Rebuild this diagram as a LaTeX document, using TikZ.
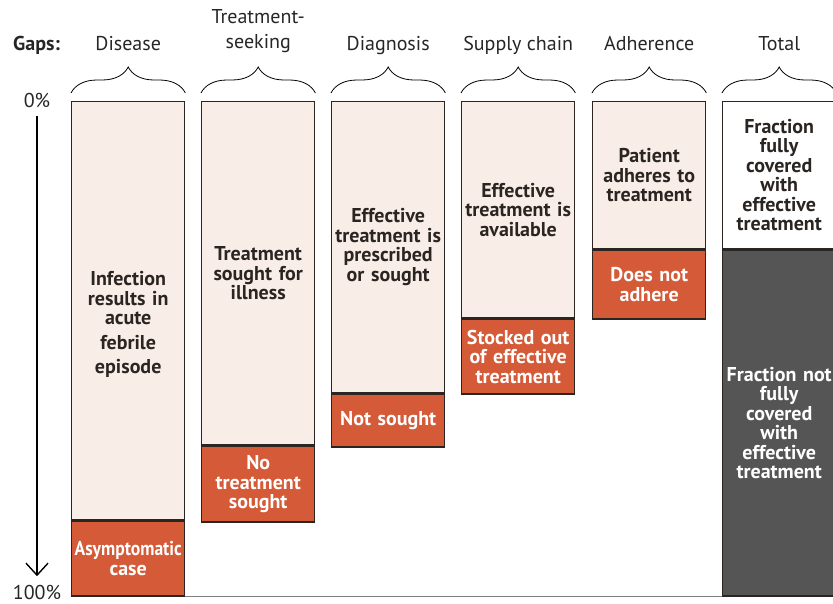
\documentclass[tikz,border=0pt]{standalone}
\usepackage{fontspec}
\setmainfont{PT Sans}
\usetikzlibrary{positioning,decorations.pathreplacing,arrows.meta}
\definecolor{hell}{HTML}{F9EDE7}
\definecolor{rot}{HTML}{D45A38}
\definecolor{dunkel}{HTML}{555555}
\definecolor{rand}{HTML}{2B2522}
\tikzset{
  balken/.style={draw=rand, line width=1.4pt, fill=hell, minimum width=113pt,
    text width=110pt, align=center, anchor=north west, inner sep=0pt,
    font=\bfseries\fontsize{20}{19.5}\selectfont, text=rand},
  luecke/.style={balken, fill=rot, text=white},
  kopf/.style={font=\fontsize{20}{25}\selectfont, align=center, text=black!85},
  klammer/.style={decorate, decoration={brace, amplitude=26pt}, line width=0.8pt},
}
\begin{document}
\begin{tikzpicture}[x=1pt,y=-1pt]
	\useasboundingbox (0,0) rectangle (833,603);
	
	% Achse
	\node[kopf] (null) at (37,100) {0\%};
	\node[kopf] (hundert) at (37,592) {100\%};
	\draw[line width=1.4pt, -{Straight Barb[length=12pt,width=22pt]}, shorten <=5pt, shorten >=5pt] (null) -- (hundert);
	
	% Balken
	\node[balken, minimum height=418pt] (dis) at (71,101) {\rule{0pt}{42pt}Infection\\results in\\acute\\[5pt]febrile\\[5pt]episode};
	\node[luecke, minimum height=75pt] (dis-l) at (dis.south west) {\scalebox{0.88}[1]{Asymptomatic}\\case};
	
	\node[balken, minimum height=343pt] (beh) at (201,101) {Treatment\\sought for\\illness};
	\node[luecke, minimum height=76pt] (beh-l) at (beh.south west) {No\\treatment\\sought};
	
	\node[balken, minimum height=291pt] (dia) at (331,101) {Effective\\treatment is\\prescribed\\or sought};
	\node[luecke, minimum height=53pt] (dia-l) at (dia.south west) {Not sought};
	
	\node[balken, minimum height=216pt] (ver) at (461,101) {Effective\\treatment is\\available};
	\node[luecke, minimum height=75pt] (ver-l) at (ver.south west) {Stocked out\\of effective\\treatment};
	
	\node[balken, minimum height=147pt] (adh) at (592,101) {Patient\\adheres to\\treatment};
	\node[luecke, minimum height=69pt] (adh-l) at (adh.south west) {Does not\\adhere};
	
	\node[balken, fill=white, minimum height=147pt] (tot) at (722,101) {Fraction\\fully\\covered\\with\\effective\\treatment};
	\node[luecke, fill=dunkel, minimum height=346pt] (tot-l) at (tot.south west) {Fraction not\\fully\\covered\\with\\effective\\treatment};
	
	% Grundlinie
	\draw[black!50, line width=1pt] (dis-l.south east) -- (tot-l.south west);
	
	% Klammern und Titel
	\foreach \b in {dis, beh, dia, ver, adh, tot}{
		\draw[klammer] ([yshift=8pt]\b.north west) -- ([yshift=8pt]\b.north east);
	}
	\node[kopf, anchor=base] (k-dis) at ([yshift=51pt]dis.north) {Disease};
	\node[kopf, anchor=south] (k-beh) at ([yshift=45pt]beh.north) {Treatment-\\seeking};
	\node[kopf, anchor=base] (k-dia) at ([yshift=51pt]dia.north) {Diagnosis};
	\node[kopf, anchor=base] (k-ver) at ([yshift=51pt]ver.north) {Supply chain};
	\node[kopf, anchor=base] (k-adh) at ([yshift=51pt]adh.north) {Adherence};
	\node[kopf, anchor=base] (k-tot) at ([yshift=51pt]tot.north) {Total};
	\node[kopf, font=\bfseries\fontsize{20}{25}\selectfont, anchor=base west, inner sep=0pt] (gaps) at (13,50) {Gaps:};
	
\end{tikzpicture}
\end{document}
